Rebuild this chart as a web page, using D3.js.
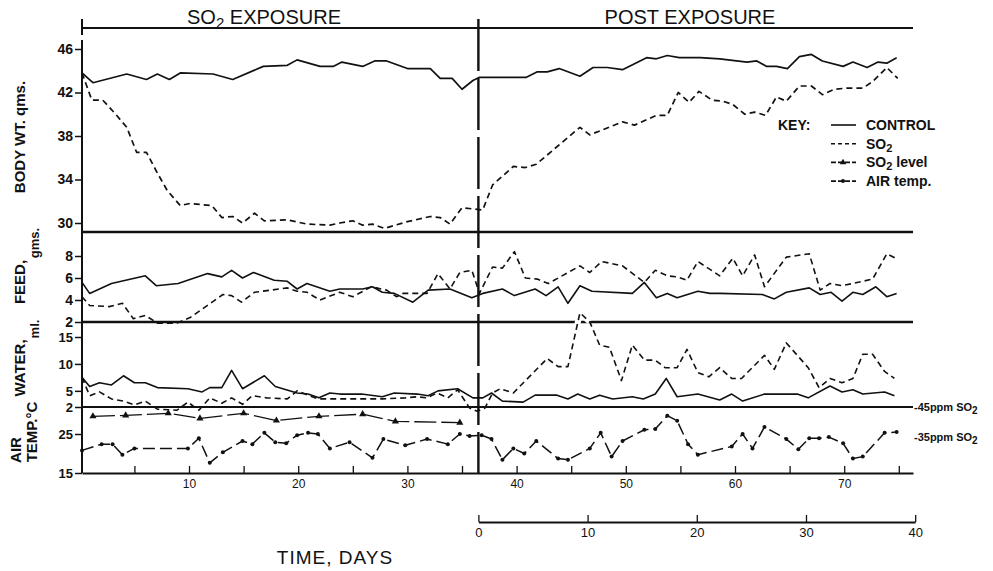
<!DOCTYPE html>
<html>
<head>
<meta charset="utf-8">
<script src="https://cdn.jsdelivr.net/npm/d3@7"></script>
<style>
body{margin:0;background:#fff;}
text{font-family:"Liberation Sans",Arial,sans-serif;fill:#111;}
.tick text{font-weight:bold;}
</style>
</head>
<body>
<div id="chart"></div>
<script>
// [day, grams] body weight
var bwControl=[[0.2,43.8],[1.2,42.9],[4.3,43.7],[6.1,43.2],[7.1,43.7],[8.2,43.2],[9.2,43.8],[12.2,43.7],[14.0,43.2],[16.8,44.4],[19.0,44.5],[19.9,45.0],[22.0,44.4],[23.2,44.4],[24.0,44.8],[25.9,44.4],[27.0,44.9],[28.1,44.9],[30.0,44.2],[32.1,44.2],[33.0,43.3],[34.1,43.3],[35.0,42.3],[36.0,43.1],[36.6,43.4],[40.9,43.4],[41.9,43.9],[42.8,43.9],[43.9,44.2],[45.8,43.5],[47.0,44.3],[48.3,44.3],[49.7,44.1],[51.9,45.2],[52.8,45.1],[53.8,45.4],[54.9,45.2],[56.8,45.2],[58.6,45.1],[61.1,44.8],[62.0,44.9],[62.9,44.4],[63.8,44.4],[64.8,44.2],[65.9,45.3],[67.0,45.5],[68.0,44.9],[69.9,44.4],[70.8,44.8],[72.1,44.3],[73.1,44.8],[73.9,44.7],[74.8,45.2]];
var bwSO2=[[0.2,43.8],[1.1,41.3],[2.1,41.3],[3.2,40.1],[4.3,38.8],[5.2,36.5],[6.1,36.5],[7.1,34.6],[8.0,33.0],[9.2,31.6],[10.1,31.8],[12.1,31.6],[13.0,30.5],[14.0,30.6],[14.9,30.0],[16.0,30.9],[16.9,30.2],[19.0,30.3],[20.8,29.9],[22.9,29.8],[23.8,30.0],[25.0,30.2],[25.9,29.8],[26.8,29.9],[27.9,29.5],[29.9,30.1],[32.1,30.6],[33.0,30.5],[33.9,29.9],[35.0,31.4],[36.9,31.2],[37.8,33.5],[39.7,35.2],[40.8,35.1],[41.8,35.4],[45.8,38.8],[46.7,38.1],[49.7,39.3],[50.8,39.0],[52.8,39.9],[53.8,39.9],[54.8,42.0],[55.8,41.1],[56.7,42.1],[57.9,41.3],[58.9,41.2],[59.8,40.9],[60.9,40.0],[61.8,40.2],[62.8,39.9],[63.8,41.6],[64.7,41.2],[65.9,42.6],[67.0,42.6],[68.0,41.8],[69.1,42.3],[70.2,42.4],[71.7,42.4],[72.6,43.0],[73.9,44.3],[74.9,43.3]];

// [day, grams] feed
var feedControl=[[0.2,5.6],[0.9,4.6],[2.9,5.5],[6.0,6.2],[7.0,5.3],[9.0,5.5],[11.7,6.4],[13.0,6.1],[13.9,6.7],[14.9,6.0],[15.9,6.5],[17.8,5.8],[19.0,5.7],[19.9,5.0],[20.8,5.5],[22.9,4.8],[23.8,5.0],[25.9,5.0],[26.8,5.2],[27.7,4.7],[28.8,4.6],[30.5,3.8],[31.9,4.9],[33.9,5.0],[35.9,4.2],[36.9,4.6],[38.7,5.0],[39.8,4.4],[41.7,5.0],[42.7,4.4],[43.8,5.2],[44.7,3.7],[45.8,5.3],[46.9,4.8],[50.6,4.6],[51.7,5.6],[52.8,4.2],[53.8,4.6],[54.7,4.2],[56.6,4.8],[57.7,4.6],[58.6,4.6],[62.5,4.5],[63.6,4.1],[64.7,4.7],[66.8,5.1],[67.8,4.5],[68.8,4.7],[69.8,3.9],[70.8,4.7],[71.7,4.5],[72.9,5.2],[73.9,4.3],[74.8,4.6]];
var feedSO2=[[0.2,4.3],[0.9,3.5],[2.7,3.4],[3.9,3.7],[4.9,2.3],[6.0,2.6],[7.1,1.9],[8.9,1.9],[10.1,2.4],[13.1,4.5],[13.9,4.4],[14.8,3.8],[16.0,4.7],[19.0,5.1],[19.9,4.8],[20.8,4.7],[22.0,4.0],[23.8,4.7],[25.0,4.3],[26.7,5.2],[28.1,4.9],[29.0,4.3],[29.6,4.6],[31.8,4.6],[32.8,6.4],[33.9,5.0],[34.8,6.5],[35.9,6.7],[36.6,4.6],[37.8,7.0],[38.7,6.9],[39.8,8.4],[40.8,6.0],[41.9,5.9],[42.9,5.5],[45.8,7.1],[46.7,6.5],[47.8,7.5],[49.7,7.1],[51.7,5.6],[52.7,6.7],[53.8,6.2],[54.7,6.1],[55.6,5.8],[56.6,7.5],[58.6,6.2],[59.8,7.8],[60.7,6.2],[61.8,8.1],[62.7,5.2],[64.7,7.9],[66.8,8.2],[67.8,4.9],[68.7,5.5],[69.8,5.3],[70.8,5.5],[72.6,5.9],[73.9,8.2],[74.9,7.7]];

// [day, ml] water
var waterControl=[[0.2,7.5],[0.9,5.8],[1.8,6.5],[2.9,6.1],[4.0,7.8],[5.0,6.5],[6.0,6.5],[7.1,5.6],[9.9,5.4],[11.2,4.8],[11.9,5.6],[13.0,5.6],[13.9,8.8],[14.9,5.4],[16.9,7.8],[17.9,5.8],[19.9,4.6],[20.9,4.4],[21.9,3.7],[22.9,4.6],[23.8,4.4],[25.8,4.4],[27.7,3.9],[28.8,4.6],[30.9,4.4],[31.9,4.1],[32.8,5.0],[34.6,5.4],[36.0,3.7],[36.9,3.7],[37.7,4.6],[38.7,3.1],[40.6,2.9],[41.7,4.2],[43.7,4.2],[44.7,3.5],[45.6,4.4],[46.7,3.5],[47.6,4.2],[48.8,3.5],[50.6,3.9],[51.6,3.5],[52.7,4.4],[53.7,7.3],[54.7,3.9],[56.6,4.4],[58.6,3.3],[59.7,4.4],[60.7,3.1],[62.7,4.4],[64.7,4.4],[65.7,4.4],[66.7,3.7],[68.7,5.9],[69.8,4.8],[70.8,5.2],[71.7,4.4],[73.7,4.8],[74.6,4.1]];
var waterSO2=[[0.2,7.5],[0.9,4.1],[1.8,4.8],[2.9,3.5],[4.0,3.1],[5.0,2.4],[6.0,3.1],[7.1,1.6],[8.9,1.4],[9.9,2.9],[10.9,1.4],[11.9,3.7],[13.0,2.7],[13.9,3.7],[14.9,2.5],[15.8,4.1],[17.1,3.7],[19.0,3.5],[19.9,5.0],[21.8,3.5],[23.8,3.5],[27.7,3.5],[29.8,3.7],[30.9,3.9],[31.8,3.7],[32.7,4.6],[33.7,3.7],[34.6,5.2],[35.7,1.8],[36.4,1.2],[37.1,1.8],[37.8,4.6],[38.5,5.4],[39.7,4.6],[42.8,11.0],[43.8,9.5],[44.7,9.5],[45.8,19.5],[46.7,17.8],[47.6,13.5],[48.5,13.1],[49.6,6.9],[50.6,13.5],[51.7,10.7],[52.7,10.7],[53.6,9.3],[54.7,9.3],[55.6,12.7],[56.6,8.4],[57.6,7.6],[58.6,9.3],[59.7,7.3],[60.6,7.3],[62.7,11.6],[63.6,9.0],[64.7,13.9],[66.7,9.3],[67.7,5.6],[68.7,7.3],[69.8,6.5],[70.8,7.3],[71.7,11.8],[72.6,11.8],[73.7,8.6],[74.6,7.3]];

// [day, ppm] SO2 level, [day, deg C] air temperature
var so2Level=[[1.2,41.9],[4.2,42.2],[8.1,42.9],[11.0,41.2],[15.0,42.9],[18.0,40.5],[21.9,41.9],[25.9,42.6],[28.9,40.2],[34.8,39.8]];
var airTemp=[[0.2,20.8],[2.0,22.4],[3.0,22.4],[3.9,19.7],[5.0,21.3],[9.9,21.3],[10.9,23.9],[11.9,17.6],[13.1,20.3],[14.9,23.2],[15.8,22.4],[16.9,25.3],[17.9,22.9],[18.9,22.6],[19.9,24.7],[20.9,25.3],[21.8,25.0],[22.9,21.3],[24.7,22.9],[26.8,18.9],[27.8,23.7],[29.8,22.1],[31.8,23.7],[33.7,22.4],[34.8,25.0],[35.7,24.5],[36.8,24.7],[37.7,23.7],[38.7,18.4],[39.7,21.3],[40.7,20.0],[41.8,23.2],[43.8,18.7],[44.7,18.4],[46.7,21.3],[47.7,25.3],[48.7,19.2],[49.7,23.2],[51.7,26.1],[52.7,26.3],[53.8,29.7],[54.7,28.4],[55.7,22.4],[56.6,19.7],[59.7,21.8],[60.7,25.0],[61.6,21.3],[62.7,26.8],[64.7,23.7],[65.8,21.1],[66.8,23.9],[67.7,23.9],[68.6,24.2],[69.9,22.6],[70.8,18.7],[71.7,19.2],[73.7,25.3],[74.8,25.5]];

var bodyTicks=[30,34,38,42,46];
var feedTicks=[2,4,6,8];
var waterTicks=[2,5,10,15];
var tempTicks=[15,25];
var dayTicks=d3.range(5,76,5);
var postTicks=[0,10,20,30,40];
var exposureEnd=36.5;
var ppmRefs=[45,35];

var width=993, height=571;
var svg=d3.select("#chart").append("svg")
    .attr("width",width)
    .attr("height",height);

var x=d3.scaleLinear().domain([0.2,76.3]).range([82,913]);
var xPost=d3.scaleLinear().domain([0,40]).range([x(exposureEnd),x(76.5)]);
var yBody=d3.scaleLinear().domain([30,46]).range([223,49]);
var yFeed=d3.scaleLinear().domain([2,8]).range([322,256]);
var yWater=d3.scaleLinear().domain([2,15]).range([407,337]);
var yTemp=d3.scaleLinear().domain([15,25]).range([473,434]);
var yPpm=d3.scaleLinear().domain([35,45]).range([437,407]);

var left=x(0.2), right=x(76.3);

// frame lines
function hline(y,x1,x2,w){
    svg.append("line").attr("x1",x1).attr("x2",x2).attr("y1",y).attr("y2",y)
        .attr("stroke","#111").attr("stroke-width",w);
}
hline(28,left,right,2.2);
svg.append("line").attr("x1",left).attr("x2",left).attr("y1",19).attr("y2",35)
    .attr("stroke","#111").attr("stroke-width",2);
svg.append("line").attr("x1",left).attr("x2",left).attr("y1",40).attr("y2",yTemp(15))
    .attr("stroke","#111").attr("stroke-width",2);
hline(232,left,right,2.4);
hline(yFeed(2),left,right,2.4);
hline(yWater(2),left,right,2.2);

// headers
var h1=svg.append("text").attr("x",264).attr("y",24).attr("text-anchor","middle")
    .style("font-size","20px");
h1.append("tspan").text("SO");
h1.append("tspan").text("2").attr("dy",4).style("font-size","15px");
h1.append("tspan").text(" EXPOSURE").attr("dy",-4);
svg.append("text").attr("x",690).attr("y",24).attr("text-anchor","middle")
    .style("font-size","20px").text("POST EXPOSURE");

// y axes
function yAxis(scale,ticks,fs){
    var g=svg.append("g").attr("transform","translate("+left+",0)")
        .call(d3.axisLeft(scale).tickValues(ticks).tickSize(7).tickPadding(2).tickFormat(d3.format("d")));
    g.select(".domain").remove();
    g.selectAll(".tick line").attr("stroke","#111").attr("stroke-width",1.5);
    g.selectAll(".tick text").style("font-size",fs).attr("fill","#111");
    return g;
}
yAxis(yBody,bodyTicks,"14px");
yAxis(yFeed,feedTicks,"14px");
yAxis(yWater,waterTicks,"13px");
yAxis(yTemp,tempTicks,"13px");

// bottom day axis
var bx=svg.append("g").attr("transform","translate(0,"+yTemp(15)+")")
    .call(d3.axisBottom(x).tickValues(dayTicks).tickSizeInner(-7).tickSizeOuter(0).tickPadding(6)
        .tickFormat(function(d){return d%10===0?d:"";}));
bx.select(".domain").attr("stroke","#111").attr("stroke-width",2.2);
bx.selectAll(".tick line").attr("stroke","#111").attr("stroke-width",1.3);
bx.selectAll(".tick text").style("font-size","12px").style("font-weight","normal");

// post exposure axis
var px=svg.append("g").attr("transform","translate(0,522)")
    .call(d3.axisBottom(xPost).tickValues(postTicks).tickSizeInner(-7).tickSizeOuter(0).tickPadding(6));
px.select(".domain").attr("stroke","#111").attr("stroke-width",2);
px.selectAll(".tick line").attr("stroke","#111").attr("stroke-width",1.3);
px.selectAll(".tick text").style("font-size","13px").style("font-weight","normal");

svg.append("text").attr("x",335).attr("y",564).attr("text-anchor","middle")
    .style("font-size","19px").style("letter-spacing","1px").text("TIME, DAYS");

// axis titles
function vlabel(tx,ty,txt,fs){
    svg.append("text").attr("transform","translate("+tx+","+ty+") rotate(-90)")
        .attr("text-anchor","middle").attr("dy","0.35em")
        .style("font-size",fs).style("font-weight","bold").text(txt);
}
vlabel(20,137,"BODY WT. qms.","15px");
vlabel(20,282,"FEED,","15px");
vlabel(34,243,"gms.","13px");
vlabel(20,368,"WATER,","15px");
vlabel(34,329,"ml.","13px");
vlabel(16,450,"AIR","15px");
vlabel(32,432,"TEMP.\u00b0C","15px");

// series
function drawLine(data,ys,dash,w,halo){
    var line=d3.line().x(function(d){return x(d[0]);}).y(function(d){return ys(d[1]);});
    if(halo){
        svg.append("path").datum(data).attr("d",line)
            .attr("fill","none").attr("stroke","#fff").attr("stroke-width",6);
    }
    svg.append("path").datum(data).attr("d",line)
        .attr("fill","none").attr("stroke","#111").attr("stroke-width",w)
        .attr("stroke-linejoin","round")
        .attr("stroke-dasharray",dash);
}
drawLine(bwControl,yBody,null,1.7);
drawLine(bwSO2,yBody,"6,4",1.7);
drawLine(feedControl,yFeed,null,1.6);
drawLine(feedSO2,yFeed,"6,4",1.6);
drawLine(waterControl,yWater,null,1.6);
// the water peak breaks through the feed baseline, as in the original
drawLine(waterSO2.filter(function(d){return d[0]>44.5&&d[0]<47;}),yWater,null,0,true);
drawLine(waterSO2,yWater,"6,4",1.6);
drawLine(so2Level,yPpm,"22,5",1.3);
drawLine(airTemp,yTemp,"12,5",1.5);

svg.selectAll(".tri").data(so2Level).enter().append("path")
    .attr("class","tri")
    .attr("d",d3.symbol(d3.symbolTriangle,22))
    .attr("transform",function(d){return "translate("+x(d[0])+","+yPpm(d[1])+")";})
    .attr("fill","#111");
svg.selectAll(".dot").data(airTemp).enter().append("circle")
    .attr("class","dot")
    .attr("cx",function(d){return x(d[0]);})
    .attr("cy",function(d){return yTemp(d[1]);})
    .attr("r",2).attr("fill","#111");

// exposure divider
svg.append("line").attr("x1",x(exposureEnd)).attr("x2",x(exposureEnd))
    .attr("y1",19).attr("y2",yTemp(15))
    .attr("stroke","#111").attr("stroke-width",2.4).attr("stroke-dasharray","52,7");

// ppm reference labels
svg.selectAll(".ppm").data(ppmRefs).enter().append("text")
    .attr("class","ppm")
    .attr("x",right+1).attr("y",function(d){return yPpm(d)+4;})
    .style("font-size","11px").style("font-weight","bold")
    .each(function(d){
        var t=d3.select(this);
        t.append("tspan").text("-"+d+"ppm SO");
        t.append("tspan").text("2").attr("dy",3).style("font-size","10px");
    });

// key
var key=svg.append("g").style("font-weight","bold").style("font-size","14px");
key.append("text").attr("x",778).attr("y",130).text("KEY:");
var keyRows=[
    {label:"CONTROL",dash:null,mark:null},
    {label:"SO",sub:"2",dash:"4,3",mark:null},
    {label:"SO",sub:"2",tail:" level",dash:"5,2",mark:"tri"},
    {label:"AIR  temp.",dash:"5,2",mark:"dot"}
];
keyRows.forEach(function(r,i){
    var ky=125+i*18.7;
    key.append("line").attr("x1",831).attr("x2",856).attr("y1",ky).attr("y2",ky)
        .attr("stroke","#111").attr("stroke-width",1.6).attr("stroke-dasharray",r.dash);
    if(r.mark==="tri"){
        key.append("path").attr("d",d3.symbol(d3.symbolTriangle,18))
            .attr("transform","translate(843,"+ky+")").attr("fill","#111");
    }
    if(r.mark==="dot"){
        key.append("circle").attr("cx",843).attr("cy",ky).attr("r",2).attr("fill","#111");
    }
    var t=key.append("text").attr("x",866).attr("y",ky+5);
    t.append("tspan").text(r.label);
    if(r.sub){
        t.append("tspan").text(r.sub).attr("dy",3).style("font-size","11px");
        if(r.tail) t.append("tspan").text(r.tail).attr("dy",-3);
    }
});
</script>
</body>
</html>
